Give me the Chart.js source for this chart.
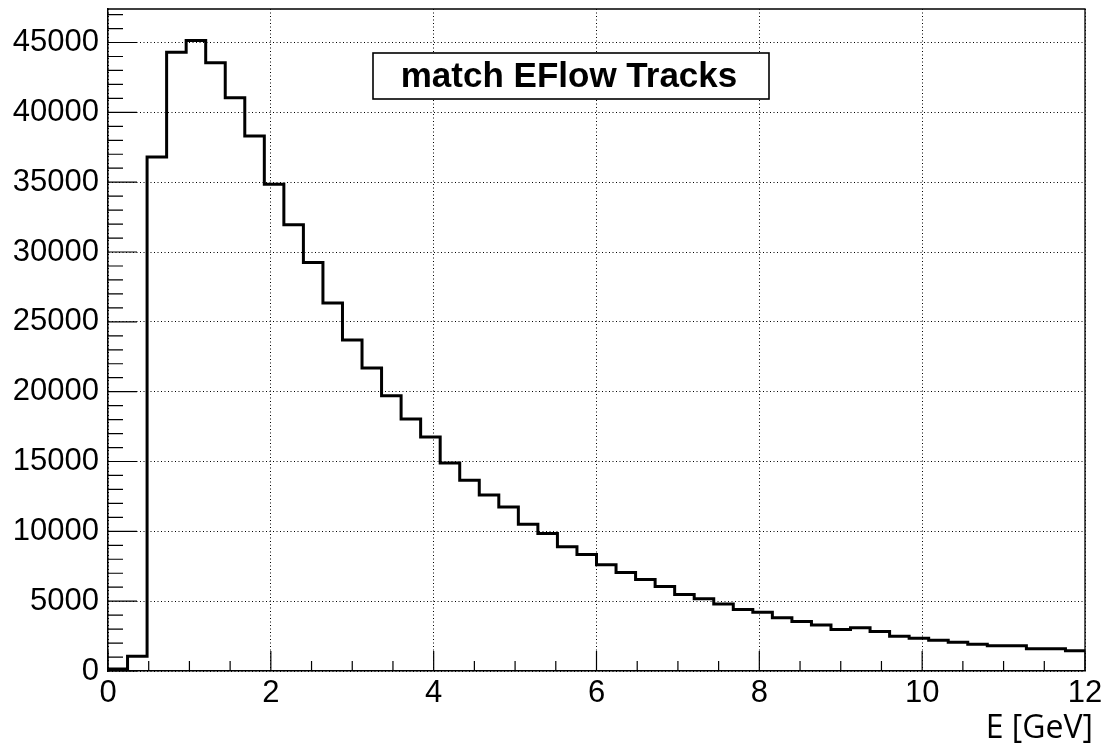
<!DOCTYPE html>
<html lang="en">
<head>
  <meta charset="UTF-8" />
  <title>match EFlow Tracks</title>
  <script src="https://cdn.jsdelivr.net/npm/chart.js"></script>
  <style>html,body{margin:0;padding:0;background:#fff;}canvas{display:block;}</style>
</head>
<body>
  <canvas id="chart" width="1105" height="747"></canvas>
  <script>
    // histogram: 50 bins of 0.24 GeV from 0 to 12
    const binWidth = 0.24;
    const counts = [150, 1050, 36800, 44300, 45150, 43550, 41050, 38300, 34850, 31950,
      29250, 26350, 23700, 21700, 19700, 18050, 16750, 14900, 13650, 12600,
      11750, 10500, 9850, 8900, 8350, 7600, 7050, 6550, 6050, 5480,
      5170, 4800, 4400, 4200, 3820, 3540, 3300, 2980, 3090, 2830,
      2480, 2350, 2210, 2060, 1920, 1800, 1800, 1600, 1590, 1450];
    const xTicks = [0, 2, 4, 6, 8, 10, 12];
    const yTicks = [0, 5000, 10000, 15000, 20000, 25000, 30000, 35000, 40000, 45000];
    const xMinorStep = 0.5, yMinorStep = 1000;
    const title = 'match EFlow Tracks';
    const xTitle = 'E [GeV]';

    // left bin edges + closing point at 12
    const points = counts.map((c, i) => ({ x: +(i * binWidth).toFixed(2), y: c }));
    points.push({ x: +(counts.length * binWidth).toFixed(2), y: counts[counts.length - 1] });

    const tickFont = { family: "'Liberation Sans', Arial, sans-serif", size: 31 };

    const frame = {
      id: 'frame',
      afterDraw(chart) {
        const { ctx, chartArea: a, scales: { x, y } } = chart;
        ctx.save();
        ctx.strokeStyle = '#000';
        ctx.lineWidth = 1.3;
        ctx.beginPath();
        ctx.moveTo(a.left, a.top);
        ctx.lineTo(a.right, a.top);
        ctx.lineTo(a.right, a.bottom);
        ctx.stroke();

        // ROOT style inside ticks
        ctx.lineWidth = 1.2;
        ctx.beginPath();
        for (let v = 0; v <= y.max; v += yMinorStep) {
          const p = y.getPixelForValue(v);
          const len = v % 5000 === 0 ? 29 : 15;
          ctx.moveTo(a.left, p);
          ctx.lineTo(a.left + len, p);
        }
        for (let v = 0; v <= x.max + 1e-9; v += xMinorStep) {
          const p = x.getPixelForValue(v);
          const len = v % 2 === 0 ? 20 : 10;
          ctx.moveTo(p, a.bottom);
          ctx.lineTo(p, a.bottom - len);
        }
        ctx.stroke();

        // axis title, right aligned a bit past the frame like ROOT
        ctx.fillStyle = '#000';
        ctx.font = "32px 'Open Sans', sans-serif";
        ctx.textAlign = 'right';
        ctx.textBaseline = 'middle';
        ctx.fillText(xTitle, a.right + 8, 729);

        // title pave
        ctx.fillStyle = '#fff';
        ctx.fillRect(373, 53, 396, 46);
        ctx.lineWidth = 1.6;
        ctx.strokeRect(373, 53, 396, 46);
        ctx.fillStyle = '#000';
        ctx.font = "bold 35px 'Liberation Sans', Arial, sans-serif";
        ctx.textAlign = 'center';
        ctx.fillText(title, 569, 77);
        ctx.restore();
      }
    };

    new Chart(document.getElementById('chart'), {
      type: 'line',
      data: {
        datasets: [{
          data: points,
          stepped: 'before',
          borderColor: '#000',
          borderWidth: 3,
          pointRadius: 0,
          fill: false
        }]
      },
      options: {
        responsive: false,
        animation: false,
        layout: { padding: { left: 0, top: 9, right: 20, bottom: 0 } },
        plugins: { legend: { display: false }, tooltip: { enabled: false } },
        scales: {
          x: {
            type: 'linear',
            min: 0,
            max: 12,
            afterBuildTicks: s => { s.ticks = xTicks.map(v => ({ value: v })); },
            afterFit: s => { s.height = 76; s.paddingLeft = 0; s.paddingRight = 0; },
            ticks: { color: '#000', font: tickFont, padding: 4, maxRotation: 0, autoSkip: false, callback: v => String(v) },
            grid: { color: '#000', lineWidth: 1, drawTicks: false },
            border: { display: true, color: '#000', width: 1.5, dash: [1, 2.5] }
          },
          y: {
            min: 0,
            max: 47400,
            afterBuildTicks: s => { s.ticks = yTicks.map(v => ({ value: v })); },
            afterFit: s => { s.width = 108; s.paddingTop = 0; s.paddingBottom = 0; },
            ticks: { color: '#000', font: tickFont, padding: 9, autoSkip: false, callback: v => String(v) },
            grid: { color: '#000', lineWidth: 1, drawTicks: false },
            border: { display: true, color: '#000', width: 1.5, dash: [1, 2.5] }
          }
        }
      },
      plugins: [frame]
    });
  </script>
</body>
</html>
